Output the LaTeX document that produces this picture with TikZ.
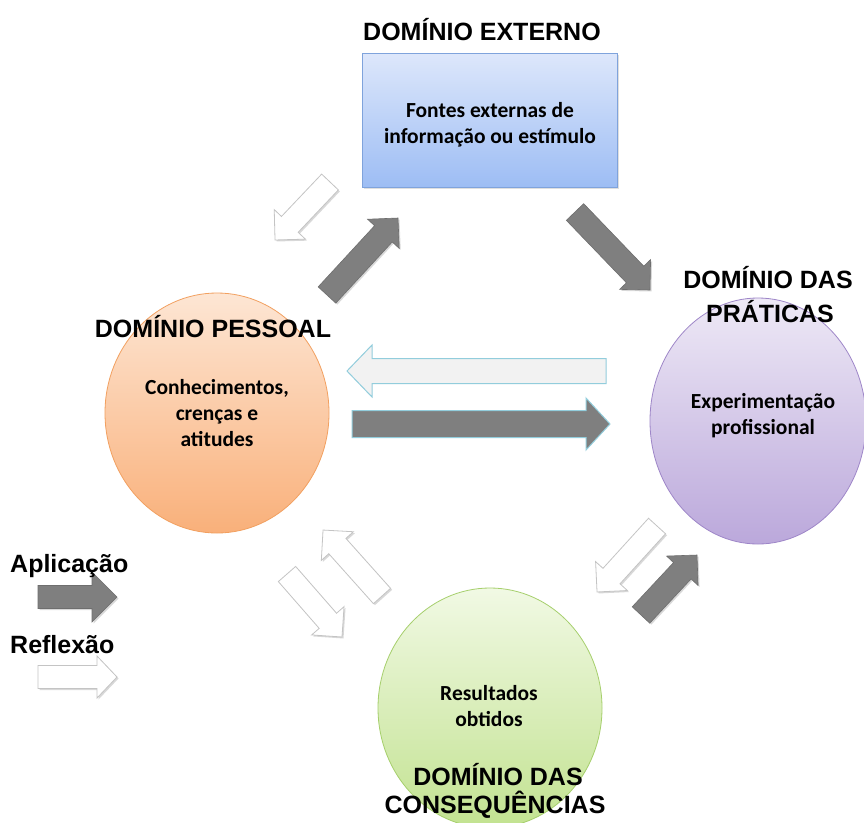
\documentclass[tikz,border=0pt]{standalone}
\usepackage{fontspec}
\setmainfont{Carlito}
\newfontfamily\labfont{Liberation Sans}
\usetikzlibrary{shadows,calc}
\definecolor{boxtop}{HTML}{DDE7FB}
\definecolor{boxbot}{HTML}{9DBDF4}
\definecolor{boxline}{HTML}{7FA3DC}
\definecolor{ortop}{HTML}{FDE6D4}
\definecolor{orbot}{HTML}{F9B07A}
\definecolor{orline}{HTML}{F2A060}
\definecolor{putop}{HTML}{EEE9F6}
\definecolor{pubot}{HTML}{BBA8DB}
\definecolor{puline}{HTML}{9E86C8}
\definecolor{grtop}{HTML}{F1F9E4}
\definecolor{grbot}{HTML}{C2E290}
\definecolor{grline}{HTML}{A6CF6C}
\definecolor{arrdark}{HTML}{7F7F7F}
\definecolor{arrdarkline}{HTML}{6E6E6E}
\definecolor{arrlight}{HTML}{F2F2F2}
\definecolor{arrblue}{HTML}{92CDDC}
\definecolor{arrwhiteline}{HTML}{C4C4C4}
\newcommand\blockarrow[6]{%
  \path let \p1=($(#3)-(#2)$) in \pgfextra{%
    \pgfmathsetmacro\baang{atan2(\y1,\x1)}%
    \pgfmathsetmacro\balen{veclen(\x1,\y1)}%
    \global\let\Bang\baang\global\let\Blen\balen};
  \begin{scope}[shift={(#2)},rotate=\Bang]
    \path[#1] (0,#4) -- ({\Blen-#6},#4) -- ({\Blen-#6},#5) -- (\Blen,0)
      -- ({\Blen-#6},-#5) -- ({\Blen-#6},-#4) -- (0,-#4) -- cycle;
  \end{scope}}
\tikzset{
  domlabel/.style={font=\labfont\bfseries\fontsize{25}{30}\selectfont, inner sep=0pt, anchor=base},
  innertext/.style={font=\bfseries\fontsize{21.5}{26}\selectfont, align=center, inner sep=0pt, anchor=base},
  ashadow/.style={drop shadow={opacity=0.3, shadow xshift=1.5pt, shadow yshift=-1.5pt}},
  darkarrow/.style={fill=arrdark, draw=arrdarkline, line width=0.6pt, ashadow},
  whitearrow/.style={fill=white, draw=arrwhiteline, line width=0.8pt, ashadow},
  hdark/.style={fill=arrdark, draw=arrblue, line width=1pt},
  hlight/.style={fill=arrlight, draw=arrblue, line width=1pt},
  domainbox/.style={draw=boxline, line width=0.8pt, top color=boxtop, bottom color=boxbot,
    drop shadow={opacity=0.25, shadow xshift=1.5pt, shadow yshift=-2pt}},
}
\begin{document}
\begin{tikzpicture}[x=1pt,y=-1pt]
\useasboundingbox (0,0) rectangle (864,822);
\clip (0,0) rectangle (864,822);
\fill[white] (0,0) rectangle (864,822);

% arrow end points
\coordinate (w1t) at (330,182); \coordinate (w1h) at (275,240);
\coordinate (d1t) at (327,295); \coordinate (d1h) at (398,218);
\coordinate (d2t) at (575,212); \coordinate (d2h) at (650,290);
\coordinate (w2t) at (287,574); \coordinate (w2h) at (342,637);
\coordinate (w3t) at (382,596); \coordinate (w3h) at (323,530);
\coordinate (w4t) at (657,526); \coordinate (w4h) at (597,592);
\coordinate (d3t) at (641,615); \coordinate (d3h) at (697,555);
\coordinate (hlt) at (606,371); \coordinate (hlh) at (347,371);
\coordinate (hdt) at (352,424); \coordinate (hdh) at (610,424);
\coordinate (lat) at (38,597);  \coordinate (lah) at (117,597);
\coordinate (lrt) at (38,677);  \coordinate (lrh) at (117,677);

% block arrows
\blockarrow{whitearrow}{w1t}{w1h}{11.5}{21.5}{21.5}
\blockarrow{darkarrow}{d1t}{d1h}{12}{21.5}{21.5}
\blockarrow{darkarrow}{d2t}{d2h}{12}{21.5}{21.5}
\blockarrow{whitearrow}{w2t}{w2h}{11.5}{21.5}{21.5}
\blockarrow{whitearrow}{w3t}{w3h}{11.5}{21.5}{21.5}
\blockarrow{whitearrow}{w4t}{w4h}{11.5}{21.5}{21.5}
\blockarrow{darkarrow}{d3t}{d3h}{12}{21.5}{21.5}
\blockarrow{hlight}{hlt}{hlh}{12.5}{26}{25}
\blockarrow{hdark}{hdt}{hdh}{13.5}{26}{24}
\blockarrow{darkarrow}{lat}{lah}{11.5}{25}{25}
\blockarrow{whitearrow}{lrt}{lrh}{11.5}{21}{20}

% domain shapes
\path[domainbox] (362,53) rectangle (617,187);
\path[draw=orline, line width=0.8pt, top color=ortop, bottom color=orbot]
  (217,413) ellipse [x radius=112, y radius=120];
\path[draw=puline, line width=0.8pt, top color=putop, bottom color=pubot]
  (758,421) ellipse [x radius=108, y radius=123];
\path[draw=grline, line width=0.8pt, top color=grtop, bottom color=grbot]
  (490,708) ellipse [x radius=112, y radius=120];

% inner texts (anchored at the baseline of the last line)
\node[innertext] (tbox) at (490,143) {Fontes externas de\\informação ou estímulo};
\node[innertext] (tpes) at (217,446) {Conhecimentos,\\crenças e\\atitudes};
\node[innertext] (tpra) at (763,434) {Experimentação\\profissional};
\node[innertext] (tcon) at (489,726) {Resultados\\obtidos};

% domain labels
\node[domlabel] (lext) at (482,40) {DOMÍNIO EXTERNO};
\node[domlabel] (lpes) at (213,337) {DOMÍNIO PESSOAL};
\node[domlabel] (lpra1) at (768,288) {DOMÍNIO DAS};
\node[domlabel] (lpra2) at (770,322) {PRÁTICAS};
\node[domlabel] (lcon1) at (498,785) {DOMÍNIO DAS};
\node[domlabel] (lcon2) at (495,813) {CONSEQUÊNCIAS};

% legend
\node[domlabel, anchor=base west] (lapl) at (10,572) {Aplicação};
\node[domlabel, anchor=base west] (lref) at (10,653) {Reflexão};
\end{tikzpicture}
\end{document}
